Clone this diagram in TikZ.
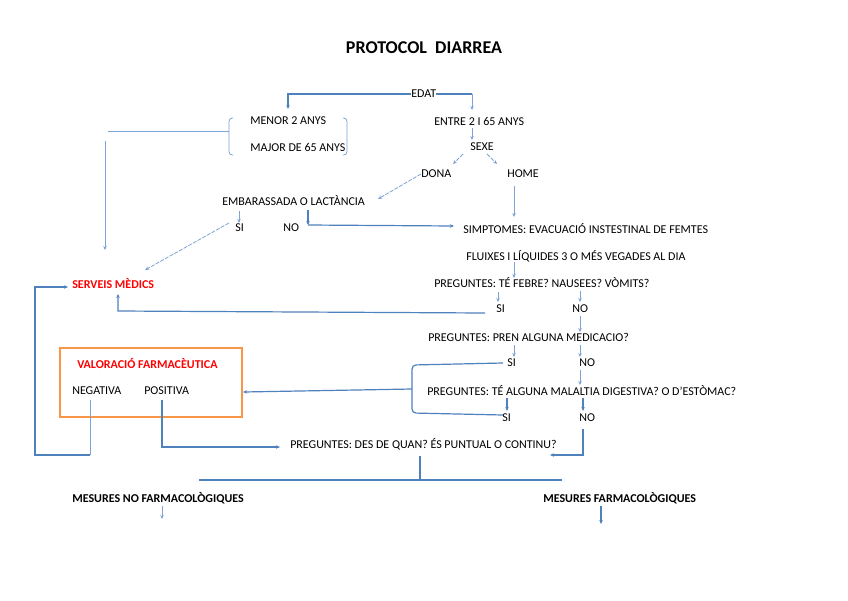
\documentclass[tikz,border=0pt]{standalone}
\usepackage{fontspec}
\setmainfont{Carlito}
\usetikzlibrary{arrows.meta,calc}
\definecolor{lnblue}{HTML}{4F81BD}
\definecolor{ltblue}{HTML}{7EA3D6}
\definecolor{orng}{HTML}{F79646}
\definecolor{redt}{HTML}{FF0000}
\begin{document}
\begin{tikzpicture}[x=0.75pt,y=-0.75pt,
  txt/.style={anchor=west,inner sep=0pt,font=\fontsize{9}{11}\selectfont},
  btxt/.style={txt,font=\fontsize{9}{11}\selectfont\bfseries},
  rtxt/.style={btxt,text=redt},
  tip/.style={-{Stealth[length=3pt,width=2.6pt]}},
  thk/.style={draw=lnblue,line width=1.5pt},
  mid/.style={draw=lnblue,line width=0.9pt},
  thn/.style={draw=ltblue,line width=0.6pt},
  dsh/.style={draw=ltblue,line width=0.6pt,dash pattern=on 3pt off 1pt}]
\useasboundingbox (0,0) rectangle (848,600);
\fill[white] (0,0) rectangle (848,600);
% title
\node[inner sep=0pt,font=\fontsize{13.5}{16}\selectfont\bfseries] (title) at (424,48) {PROTOCOL\ \ DIARREA};
% texts
\node[txt] (edat) at (411,94) {EDAT};
\node[txt] (menor) at (250,121) {MENOR 2 ANYS};
\node[txt] (major) at (250,147) {MAJOR DE 65 ANYS};
\node[txt] (entre) at (434,121) {ENTRE 2 I 65 ANYS};
\node[txt] (sexe) at (470,147) {SEXE};
\node[txt] (dona) at (421,174) {DONA};
\node[txt] (home) at (507,174) {HOME};
\node[txt] (emb) at (222,201) {EMBARASSADA O LACTÀNCIA};
\node[txt] (embsi) at (235,228) {SI};
\node[txt] (embno) at (283,228) {NO};
\node[txt] (simp) at (463,229) {SIMPTOMES: EVACUACIÓ INSTESTINAL DE FEMTES};
\node[txt] (flux) at (466,256) {FLUIXES I LÍQUIDES 3 O MÉS VEGADES AL DIA};
\node[rtxt] (serv) at (72,283) {SERVEIS MÈDICS};
\node[txt] (feb) at (434,283) {PREGUNTES: TÉ FEBRE? NAUSEES? VÒMITS?};
\node[txt] (febsi) at (496,309) {SI};
\node[txt] (febno) at (572,309) {NO};
\node[txt] (med) at (428,337) {PREGUNTES: PREN ALGUNA MEDICACIO?};
\node[txt] (medsi) at (507,363) {SI};
\node[txt] (medno) at (579,363) {NO};
\node[rtxt] (val) at (77,363) {VALORACIÓ FARMACÈUTICA};
\node[txt] (neg) at (72,391) {NEGATIVA};
\node[txt] (pos) at (144,391) {POSITIVA};
\node[txt] (mal) at (427,391) {PREGUNTES: TÉ ALGUNA MALALTIA DIGESTIVA? O D’ESTÒMAC?};
\node[txt] (malsi) at (502,418) {SI};
\node[txt] (malno) at (579,418) {NO};
\node[txt] (des) at (290,444) {PREGUNTES: DES DE QUAN? ÉS PUNTUAL O CONTINU?};
\node[btxt] (mnf) at (72,498) {MESURES NO FARMACOLÒGIQUES};
\node[btxt] (mf) at (543,498) {MESURES FARMACOLÒGIQUES};
% orange box
\node[draw=orng,line width=1.3pt,inner sep=0pt,minimum width=182*0.75pt,minimum height=69*0.75pt] (box) at (151,382.5) {};
% brackets
\draw[thn,rounded corners=2.5pt] (233,118) -- (229,118) -- (229,155) -- (233,155);
\draw[thn,rounded corners=2.5pt] (343,118) -- (347,118) -- (347,155) -- (343,155);
\coordinate (brl) at (229,131);
% EDAT branches
\coordinate (a1) at (288,109);
\draw[thk,tip] (edat.west) -| (a1);
\coordinate (a2) at (472,94);
\draw[thk] (edat.east) -- (a2);
\draw[thn,tip] (a2) -- (472,110);
% bracket -> serveis
\draw[thn] (brl) -- (108,131);
\draw[thn,tip] (105,141) -- (105,250);
% entre -> sexe
\draw[thn,tip] (472,128) -- (472,140);
% sexe -> dona/home
\draw[dsh,tip] (463,154) -- (453,164);
\draw[dsh,tip] (487,154) -- (497,164);
% dona -> embarassada
\draw[dsh,tip] (dona.west) -- (378,199);
% home -> simptomes
\draw[thn,tip] (514,186) -- (514,217);
% emb -> si / no
\draw[thn,tip] (239,211) -- (239,223);
\draw[mid,tip] (308,210) -- (308,225);
\draw[mid,tip] (308,225) -- (454,226);
% si -> serveis (dashed)
\draw[dsh,tip] (229,223) -- (145,270);
% flux -> feb
\draw[thn,tip] (514,262) -- (514,278);
% feb -> si/no
\draw[thn,tip] (498,292) -- (498,302);
\draw[thn,tip] (580,291) -- (580,302);
% si -> serveis
\draw[mid,tip] (485,313) -- (118,311) -- (118,294);
% no -> med
\draw[thn,tip] (580,316) -- (580,332);
% med -> si/no
\draw[thn,tip] (514,345) -- (514,357);
\draw[thn,tip] (580,345) -- (580,357);
% medno -> mal
\draw[thn,tip] (580,370) -- (580,385);
% bracket from SI to SI
\draw[mid,rounded corners=3pt] (503,363) -- (412,365) -- (412,413) -- (503,415);
\draw[mid,tip] (412,389) -- (243,392);
% mal -> si/no
\draw[mid,tip] (507,398) -- (507,411);
\draw[mid,tip] (583,398) -- (583,411);
% malno -> des
\draw[mid,tip] (583,429) -- (583,455) -- (550,455);
% positiva -> des
\draw[mid,tip] (162,400) -- (162,447) -- (280,447);
% negativa -> serveis
\draw[thn] (90,400) -- (90,455);
\draw[thk,tip] (90,455) -- (35,455) -- (35,287) -- (68,287);
% bottom split
\draw[thk] (420,456) -- (420,480);
\draw[thk] (199,480) -- (562,480);
\draw[thn,tip] (162,506) -- (162,519);
\draw[mid,tip] (601,506) -- (601,524);
\end{tikzpicture}
\end{document}
